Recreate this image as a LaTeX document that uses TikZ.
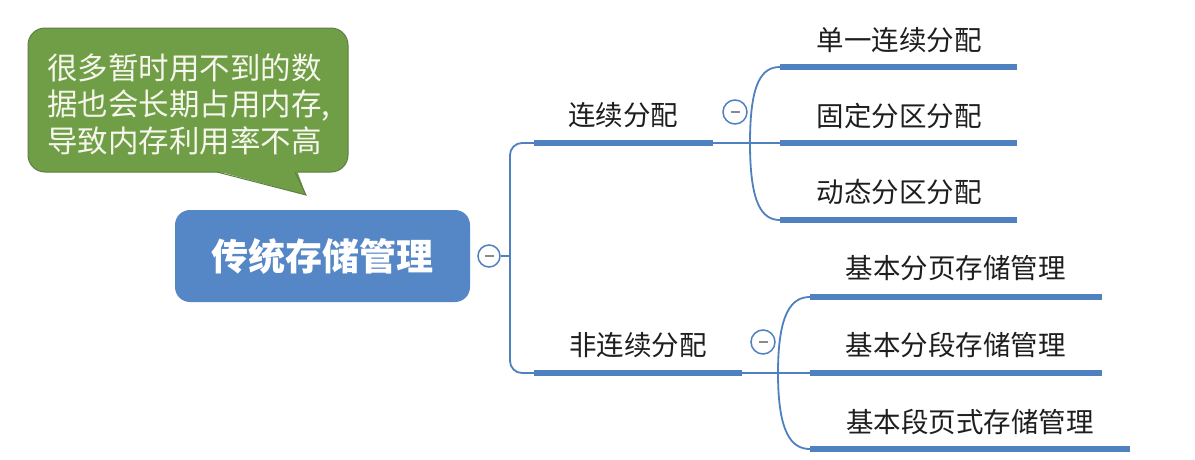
\documentclass[tikz,border=0pt]{standalone}
\usepackage{fontspec}
\setmainfont{Noto Sans CJK SC}
\definecolor{lineblue}{HTML}{4F81C0}
\definecolor{rootblue}{HTML}{5586C6}
\definecolor{cgreen}{HTML}{6F9E47}
\definecolor{cborder}{HTML}{5C7F43}
\definecolor{ctext}{HTML}{F6F6EC}
\definecolor{txt}{HTML}{1E1E1E}
\definecolor{minusgrey}{HTML}{8A8A8A}
\tikzset{
  conn/.style={draw=lineblue, line width=1.8pt},
  bar/.style={draw=lineblue, line width=6pt},
  lab/.style={inner sep=0pt, text=txt, font=\fontsize{27.5}{32}\selectfont},
  rootbox/.style={fill=rootblue, rounded corners=15pt, minimum width=295pt, minimum height=92pt, inner sep=0pt,
     text=white, font=\fontsize{37}{42}\selectfont\bfseries},
  collapse/.style={circle, draw=lineblue, line width=1.5pt, fill=white, minimum size=22pt, inner sep=0pt},
}
\newcommand{\minusmark}[1]{\draw[minusgrey, line width=1.6pt] ([xshift=-4.5pt]#1.center) -- ([xshift=4.5pt]#1.center);}
\begin{document}
\begin{tikzpicture}[x=1pt,y=-1pt]
\useasboundingbox[fill=white] (0,0) rectangle (1195,459);

% callout
\draw[fill=cgreen, draw=cborder, line width=1pt, rounded corners=17pt] (28,28) rectangle (348,172);
\fill[cgreen] (215,170.5) -- (306,195) -- (297,170.5) -- cycle;
\draw[cborder, line width=1pt] (217,172) -- (306,195) -- (295,172);
\node[anchor=west, inner sep=0pt, align=left, text=ctext, font=\fontsize{30.5}{36.5}\selectfont] (note) at (47,104)
  {很多暂时用不到的数\\据也会长期占用内存,\\导致内存利用率不高};

% root
\node[rootbox] (root) at (322.5,256) {传统存储管理};
\node[collapse] (c0) at (489,256) {};
\minusmark{c0}

% trunk coordinates
\coordinate (t) at (510,256);
\coordinate (b1L) at (534,143);
\coordinate (b1R) at (713,143);
\coordinate (b2L) at (534,373);
\coordinate (b2R) at (742,373);
\draw[conn] (c0.east) -- (t);
\draw[conn, rounded corners=12pt] (b1L) -| (t) |- (b2L);

% branch 1
\draw[bar] (b1L) -- (b1R);
\node[lab] (l1) at (623,115) {连续分配};
\node[collapse, minimum size=24pt] (c1) at (735,112) {};
\minusmark{c1}
\coordinate (j1) at (750,143);
\coordinate (k1L) at (780,67)  ; \coordinate (k1R) at (1017,67);
\coordinate (k2L) at (780,143) ; \coordinate (k2R) at (1017,143);
\coordinate (k3L) at (780,220) ; \coordinate (k3R) at (1017,220);
\draw[conn] (b1R) -- (k2L);
\draw[conn] (j1) .. controls (750,82) and (762,67) .. (k1L);
\draw[conn] (j1) .. controls (750,204) and (762,220) .. (k3L);
\draw[bar] (k1L) -- (k1R);
\draw[bar] (k2L) -- (k2R);
\draw[bar] (k3L) -- (k3R);
\node[lab] (m1) at (899,40) {单一连续分配};
\node[lab] (m2) at (899,116) {固定分区分配};
\node[lab] (m3) at (899,192) {动态分区分配};

% branch 2
\draw[bar] (b2L) -- (b2R);
\node[lab] (l2) at (638,345) {非连续分配};
\node[collapse, minimum size=24pt] (c2) at (763,342) {};
\minusmark{c2}
\coordinate (j2) at (778,373);
\coordinate (n1L) at (810,297) ; \coordinate (n1R) at (1102,297);
\coordinate (n2L) at (810,373) ; \coordinate (n2R) at (1102,373);
\coordinate (n3L) at (810,449) ; \coordinate (n3R) at (1130,449);
\draw[conn] (b2R) -- (n2L);
\draw[conn] (j2) .. controls (778,312) and (792,297) .. (n1L);
\draw[conn] (j2) .. controls (778,434) and (792,449) .. (n3L);
\draw[bar] (n1L) -- (n1R);
\draw[bar] (n2L) -- (n2R);
\draw[bar] (n3L) -- (n3R);
\node[lab] (p1) at (955.5,268) {基本分页存储管理};
\node[lab] (p2) at (955.5,345) {基本分段存储管理};
\node[lab] (p3) at (970,422) {基本段页式存储管理};
\end{tikzpicture}
\end{document}
